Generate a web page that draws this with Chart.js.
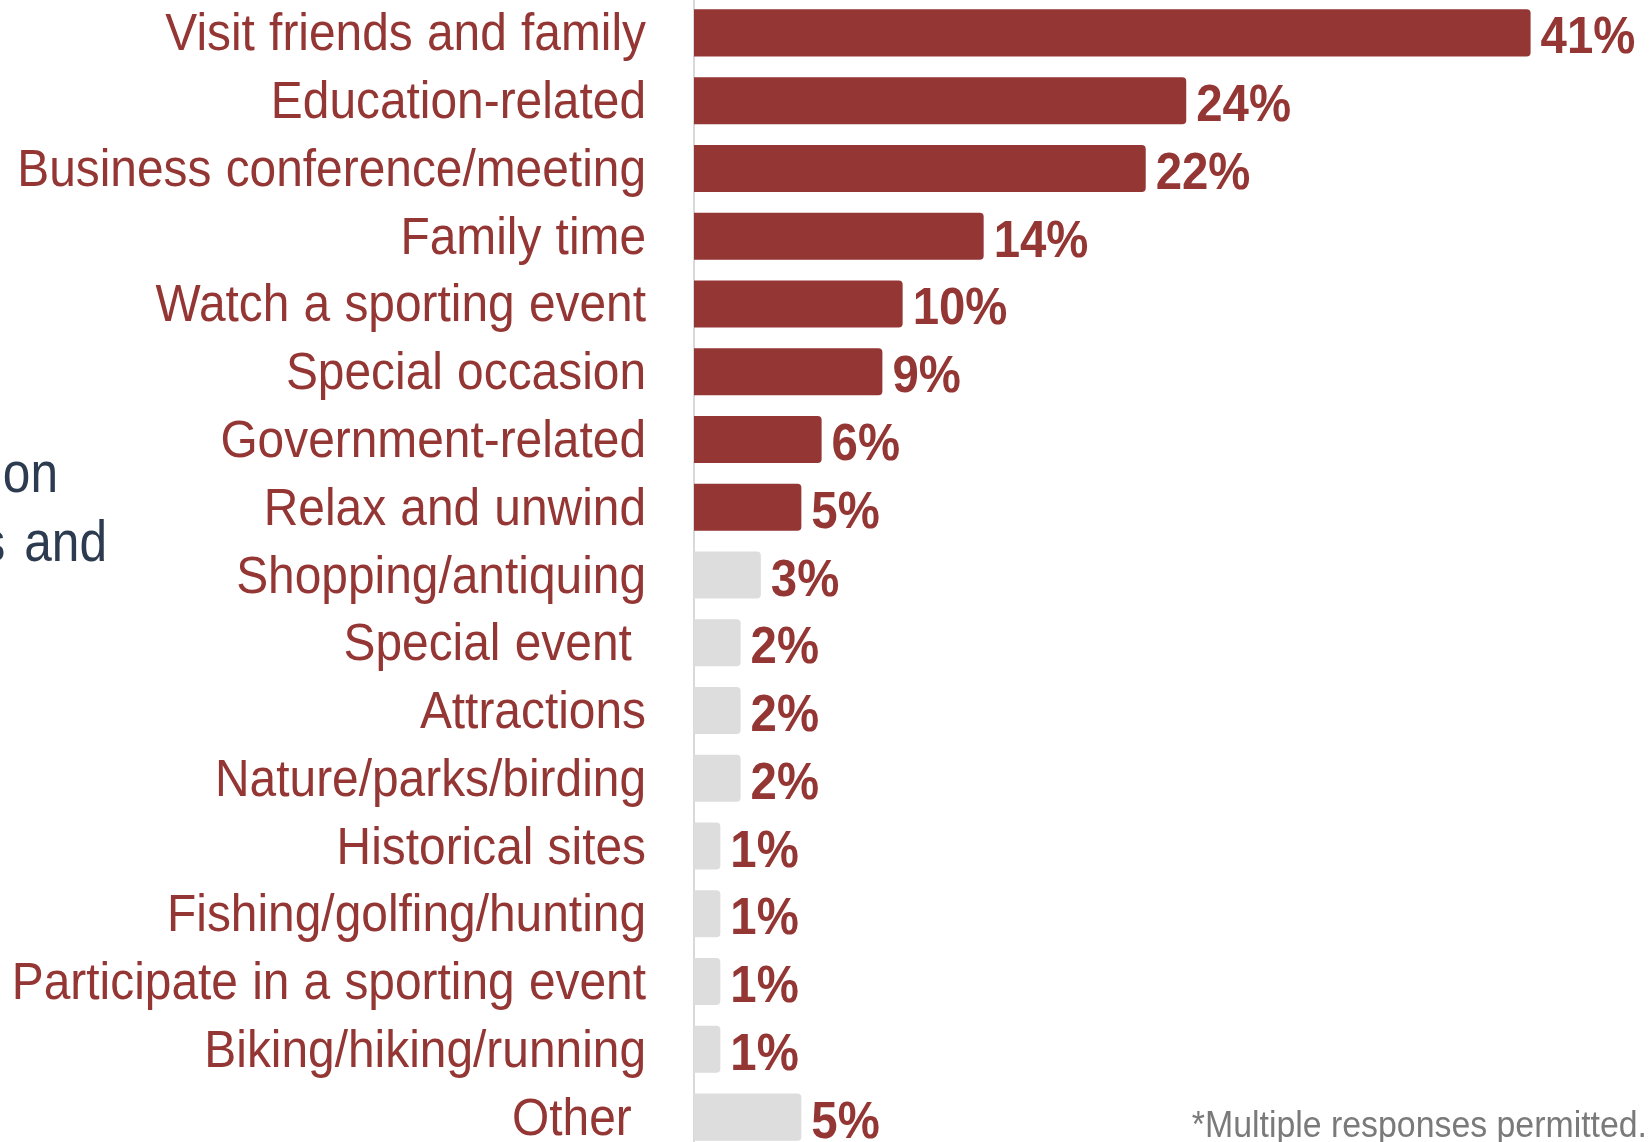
<!DOCTYPE html>
<html>
<head>
<meta charset="utf-8">
<title>Trip purpose</title>
<script src="https://cdn.jsdelivr.net/npm/chart.js@4/dist/chart.umd.min.js"></script>
<style>
  html, body { margin: 0; padding: 0; background: #ffffff; overflow: hidden; }
  #wrap { position: relative; width: 1649px; height: 1142px; overflow: hidden; }
  #tripChart { position: absolute; left: 0; top: -1px; }
</style>
</head>
<body>
<div id="wrap">
  <canvas id="tripChart" width="1649" height="1152"></canvas>
</div>
<script>
// Reasons for the trip, share of respondents (%)
const categories = [
  'Visit friends and family',
  'Education-related',
  'Business conference/meeting',
  'Family time',
  'Watch a sporting event',
  'Special occasion',
  'Government-related',
  'Relax and unwind',
  'Shopping/antiquing',
  'Special event ',
  'Attractions',
  'Nature/parks/birding',
  'Historical sites',
  'Fishing/golfing/hunting',
  'Participate in a sporting event',
  'Biking/hiking/running',
  'Other '
];
const shares = [41, 24, 22, 14, 10, 9, 6, 5, 3, 2, 2, 2, 1, 1, 1, 1, 5];
const footnote = '*Multiple responses permitted.';
const sideText = ['on', 's and'];

const RED = '#943634';
const GREY_BAR = '#dddddd';
const TOP_COUNT = 8; // the leading reasons are drawn in red
const SANS = '"Liberation Sans", Arial, sans-serif';

const barColors = shares.map((_, i) => (i < TOP_COUNT ? RED : GREY_BAR));

// condensed text: regular sans squeezed horizontally
function narrowText(ctx, text, x, y, squeeze) {
  ctx.save();
  ctx.translate(x, y);
  ctx.scale(squeeze, 1);
  ctx.fillText(text, 0, 0);
  ctx.restore();
}

// category names to the left of the axis
const categoryLabels = {
  id: 'categoryLabels',
  afterDraw(chart) {
    const { ctx } = chart;
    const yScale = chart.scales.y;
    ctx.save();
    ctx.font = '52.6px ' + SANS;
    ctx.fillStyle = RED;
    ctx.textAlign = 'right';
    ctx.textBaseline = 'alphabetic';
    ctx.wordSpacing = '1px';
    categories.forEach((label, i) => {
      narrowText(ctx, label, yScale.right - 48, yScale.getPixelForTick(i) + 17.5, 0.91);
    });
    ctx.restore();
  }
};

// percentage text just past the end of each bar
const valueLabels = {
  id: 'valueLabels',
  afterDatasetsDraw(chart) {
    const { ctx } = chart;
    const meta = chart.getDatasetMeta(0);
    ctx.save();
    ctx.font = 'bold 52.6px ' + SANS;
    ctx.fillStyle = RED;
    ctx.textAlign = 'left';
    ctx.textBaseline = 'alphabetic';
    meta.data.forEach((bar, i) => {
      narrowText(ctx, shares[i] + '%', bar.x + 10, bar.y + 20.5, 0.9);
    });
    ctx.restore();
  }
};

// note in the corner and the clipped text box on the left
const extras = {
  id: 'extras',
  afterDraw(chart) {
    const { ctx } = chart;
    ctx.save();
    ctx.textAlign = 'right';
    ctx.textBaseline = 'alphabetic';
    ctx.font = '36px ' + SANS;
    ctx.fillStyle = '#7a7a7a';
    narrowText(ctx, footnote, 1647, 1138, 0.94);

    ctx.fillStyle = '#2c3b4f';
    ctx.font = '57px ' + SANS;
    ctx.wordSpacing = '6px';
    narrowText(ctx, sideText[0], 58, 493, 0.87);
    narrowText(ctx, sideText[1], 107, 562, 0.87);
    ctx.restore();
  }
};

new Chart(document.getElementById('tripChart'), {
  type: 'bar',
  data: {
    labels: categories,
    datasets: [{
      data: shares,
      backgroundColor: barColors,
      base: -0.3,
      borderRadius: 4,
      borderSkipped: 'start',
      barPercentage: 0.694,
      categoryPercentage: 1
    }]
  },
  options: {
    indexAxis: 'y',
    responsive: false,
    animation: false,
    layout: { padding: { left: 0, right: 7, top: 0, bottom: 0 } },
    plugins: {
      legend: { display: false },
      tooltip: { enabled: false }
    },
    scales: {
      x: {
        display: false,
        min: -0.3,
        max: 46.5
      },
      y: {
        grid: { display: false, drawTicks: false },
        border: { display: true, color: '#d9d9d9', width: 2 },
        ticks: { display: false },
        afterFit(scale) {
          scale.width = 694;
          scale.paddingTop = 0;
          scale.paddingBottom = 0;
        }
      }
    }
  },
  plugins: [valueLabels, categoryLabels, extras]
});
</script>
</body>
</html>
